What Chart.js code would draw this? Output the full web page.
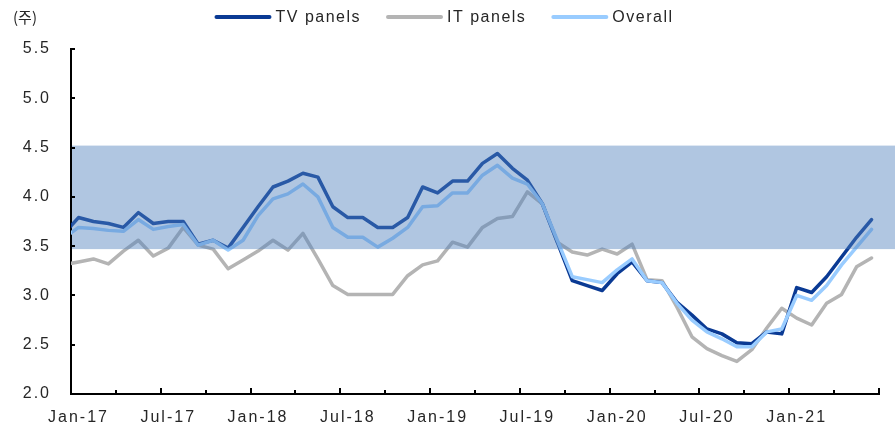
<!DOCTYPE html>
<html>
<head>
<meta charset="utf-8">
<script src="https://cdn.jsdelivr.net/npm/chart.js@4.4.1/dist/chart.umd.min.js"></script>
<style>
  html, body { margin: 0; padding: 0; background: #fff; }
  #wrap { width: 895px; height: 431px; }
</style>
</head>
<body>
<div id="wrap"><canvas id="chart"></canvas></div>
<script>
// monthly, Dec-16 is only there so the line runs into the axis (it is clipped)
const months = [
  "Dec-16",
  "Jan-17", "Feb-17", "Mar-17", "Apr-17", "May-17", "Jun-17", "Jul-17", "Aug-17", "Sep-17", "Oct-17", "Nov-17", "Dec-17",
  "Jan-18", "Feb-18", "Mar-18", "Apr-18", "May-18", "Jun-18", "Jul-18", "Aug-18", "Sep-18", "Oct-18", "Nov-18", "Dec-18",
  "Jan-19", "Feb-19", "Mar-19", "Apr-19", "May-19", "Jun-19", "Jul-19", "Aug-19", "Sep-19", "Oct-19", "Nov-19", "Dec-19",
  "Jan-20", "Feb-20", "Mar-20", "Apr-20", "May-20", "Jun-20", "Jul-20", "Aug-20", "Sep-20", "Oct-20", "Nov-20", "Dec-20",
  "Jan-21", "Feb-21", "Mar-21", "Apr-21", "May-21", "Jun-21"
];
const tvPanels = [
  3.62,
  3.79, 3.75, 3.73, 3.69, 3.84, 3.73, 3.75, 3.75, 3.52, 3.56, 3.48, 3.69,
  3.90, 4.10, 4.16, 4.24, 4.20, 3.90, 3.79, 3.79, 3.69, 3.69, 3.79, 4.10,
  4.04, 4.16, 4.16, 4.34, 4.44, 4.29, 4.17, 3.93, 3.54, 3.15, 3.10, 3.05,
  3.22, 3.34, 3.15, 3.13, 2.93, 2.80, 2.66, 2.61, 2.52, 2.51, 2.63, 2.61,
  3.08, 3.03, 3.19, 3.39, 3.59, 3.77
];
const itPanels = [
  3.31,
  3.34, 3.37, 3.32, 3.45, 3.56, 3.40, 3.48, 3.69, 3.51, 3.47, 3.27, 3.36,
  3.45, 3.56, 3.46, 3.63, 3.37, 3.10, 3.01, 3.01, 3.01, 3.01, 3.20, 3.31,
  3.35, 3.54, 3.49, 3.69, 3.78, 3.80, 4.05, 3.93, 3.54, 3.44, 3.41, 3.47,
  3.42, 3.52, 3.16, 3.15, 2.88, 2.58, 2.46, 2.39, 2.33, 2.45, 2.67, 2.87,
  2.77, 2.70, 2.92, 3.01, 3.29, 3.38
];
const overall = [
  3.58,
  3.69, 3.68, 3.66, 3.65, 3.77, 3.67, 3.70, 3.72, 3.51, 3.56, 3.46, 3.56,
  3.81, 3.98, 4.03, 4.13, 4.00, 3.69, 3.59, 3.59, 3.49, 3.58, 3.69, 3.90,
  3.91, 4.04, 4.04, 4.22, 4.32, 4.19, 4.13, 3.93, 3.56, 3.19, 3.16, 3.13,
  3.26, 3.37, 3.15, 3.13, 2.92, 2.75, 2.63, 2.56, 2.48, 2.48, 2.63, 2.66,
  3.00, 2.95, 3.10, 3.31, 3.49, 3.67
];
const xTickLabels = ["Jan-17", "Jul-17", "Jan-18", "Jul-18", "Jan-19", "Jul-19", "Jan-20", "Jul-20", "Jan-21"];
const bandLow = 3.47;
const bandHigh = 4.52;

const FONT = '"Liberation Sans", Arial, sans-serif';
const TEXT = "#262626";

// Gulim-style wide letter spacing for the tick labels
const spacing = {
  id: "spacing",
  beforeDraw(chart) {
    chart.ctx.letterSpacing = "2px";
  }
};

// translucent band laid over the lines, runs to the right edge
const band = {
  id: "band",
  afterDatasetsDraw(chart) {
    const { ctx, chartArea, scales } = chart;
    const top = scales.y.getPixelForValue(bandHigh);
    const bottom = scales.y.getPixelForValue(bandLow);
    ctx.save();
    ctx.fillStyle = "rgba(79,129,189,0.45)";
    ctx.fillRect(chartArea.left + 1, top, chart.width - chartArea.left - 1, bottom - top);
    ctx.restore();
  }
};

// tick marks pointing into the plot, legend and unit
const extras = {
  id: "extras",
  afterDraw(chart) {
    const { ctx, chartArea, scales } = chart;
    const x = scales.x, y = scales.y;
    ctx.save();
    ctx.strokeStyle = "#000";
    ctx.lineWidth = 2;
    ctx.beginPath();
    y.ticks.forEach((t) => {
      const py = Math.round(y.getPixelForValue(t.value));
      ctx.moveTo(chartArea.left, py);
      ctx.lineTo(chartArea.left + 4, py);
    });
    const slot = x.getPixelForValue(2) - x.getPixelForValue(1);
    for (let m = 3; m <= 54; m += 3) {
      const px = Math.round(x.getPixelForValue(m) + slot / 2);
      const len = m % 6 === 0 ? 6 : 4;
      ctx.moveTo(px, chartArea.bottom);
      ctx.lineTo(px, chartArea.bottom - len);
    }
    ctx.stroke();

    // legend
    ctx.font = "16px " + FONT;
    ctx.letterSpacing = "1.5px";
    ctx.textBaseline = "middle";
    ctx.textAlign = "left";
    const lineLen = 53, textGap = 6, itemGap = 27, cy = 17;
    const items = chart.data.datasets.map((ds) => ({
      ds,
      w: lineLen + textGap + ctx.measureText(ds.label).width
    }));
    const total = items.reduce((s, it) => s + it.w, 0) + itemGap * (items.length - 1);
    let lx = 445 - total / 2;
    items.forEach((it) => {
      ctx.strokeStyle = it.ds.borderColor;
      ctx.lineWidth = 4;
      ctx.lineCap = "round";
      ctx.beginPath();
      ctx.moveTo(lx, cy);
      ctx.lineTo(lx + lineLen, cy);
      ctx.stroke();
      ctx.fillStyle = TEXT;
      ctx.fillText(it.ds.label, lx + lineLen + textGap, cy + 1);
      lx += it.w + itemGap;
    });

    // unit
    ctx.letterSpacing = "0px";
    ctx.font = '15px "Noto Sans CJK KR", sans-serif';
    ctx.textAlign = "center";
    ctx.fillText("(주)", 25, 17);
    ctx.restore();
  }
};

const lineStyle = {
  borderWidth: 3.5,
  pointRadius: 0,
  tension: 0,
  fill: false,
  borderJoinStyle: "round",
  borderCapStyle: "round"
};

new Chart(document.getElementById("chart"), {
  type: "line",
  data: {
    labels: months,
    datasets: [
      { label: "TV panels", data: tvPanels, borderColor: "#0A3A94", order: 2, ...lineStyle },
      { label: "IT panels", data: itPanels, borderColor: "#B4B4B4", order: 3, ...lineStyle },
      { label: "Overall", data: overall, borderColor: "#99CCFF", order: 1, ...lineStyle }
    ]
  },
  options: {
    responsive: true,
    maintainAspectRatio: false,
    animation: false,
    devicePixelRatio: 1,
    events: [],
    layout: { padding: { top: 49, right: 16, left: 0, bottom: 0 } },
    plugins: {
      legend: { display: false },
      tooltip: { enabled: false }
    },
    scales: {
      x: {
        type: "category",
        offset: true,
        min: "Jan-17",
        grid: { display: false, drawTicks: false },
        border: { display: true, color: "#000", width: 2 },
        ticks: {
          autoSkip: false,
          maxRotation: 0,
          padding: 14,
          color: TEXT,
          font: { family: FONT, size: 16 },
          callback: function (value) {
            const lab = this.getLabelForValue(value);
            return xTickLabels.includes(lab) ? lab : "";
          }
        },
        afterFit: (s) => { s.height = 37; }
      },
      y: {
        min: 2,
        max: 5.5,
        grid: { display: false, drawTicks: false },
        border: { display: true, color: "#000", width: 2 },
        ticks: {
          stepSize: 0.5,
          padding: 20,
          color: TEXT,
          font: { family: FONT, size: 16 },
          callback: (v) => v.toFixed(1)
        },
        afterFit: (s) => { s.width = 71; }
      }
    }
  },
  plugins: [spacing, band, extras]
});
</script>
</body>
</html>
